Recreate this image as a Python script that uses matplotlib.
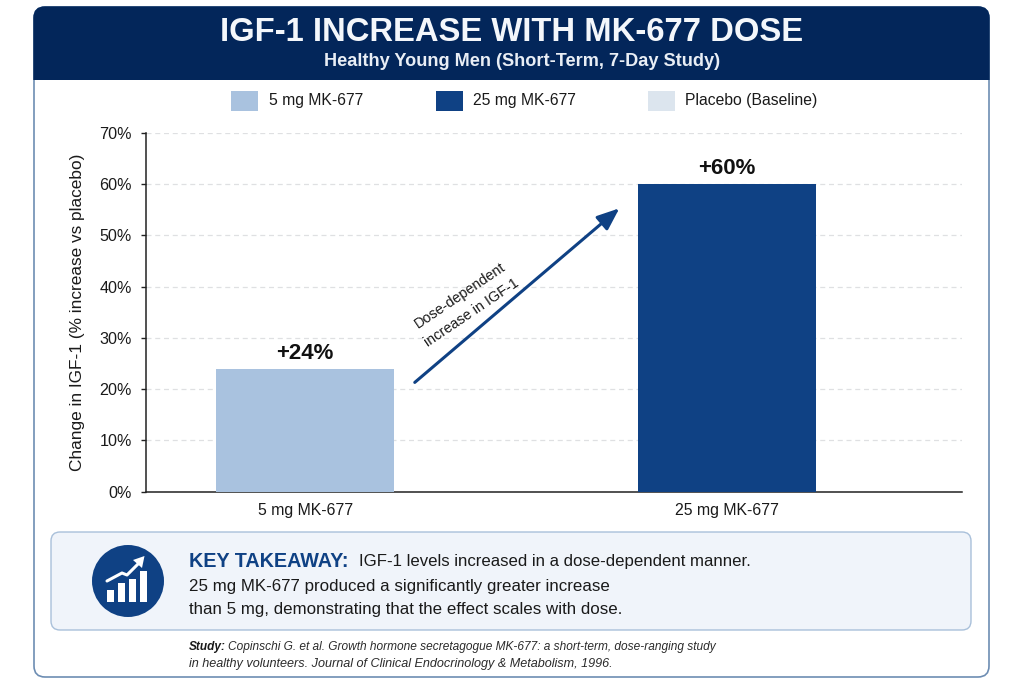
import matplotlib
matplotlib.use('Agg')
import matplotlib.pyplot as plt
from matplotlib.patches import Circle, FancyBboxPatch, Polygon, Rectangle

plt.rcParams['font.family'] = ['Liberation Sans', 'DejaVu Sans']

# IGF-1 change per dose
doses = ['5 mg MK-677', '25 mg MK-677']
igf_change = [24, 60]
value_labels = ['+24%', '+60%']
yticks = [0, 10, 20, 30, 40, 50, 60, 70]
legend_labels = ['5 mg MK-677', '25 mg MK-677', 'Placebo (Baseline)']
icon_bars = [12, 19, 23, 31]

NAVY = '#03265a'
BLUE = '#0f4184'
LIGHT = '#a9c2df'
PALE = '#dce5ee'
EDGE = '#6d8db3'
TEXT = '#1a1a1a'

W, H = 1024, 683


def main():
    fig = plt.figure(figsize=(W / 100, H / 100), dpi=100, facecolor='white')

    # page layer in pixel units, y pointing down
    page = fig.add_axes([0, 0, 1, 1], zorder=0)
    page.set_xlim(0, W)
    page.set_ylim(H, 0)
    page.axis('off')

    frame_box = dict(boxstyle='round,pad=0,rounding_size=11')
    page.add_patch(FancyBboxPatch((34, 7), 955, 670, fc='white', ec=EDGE, lw=1.2, **frame_box))
    header = FancyBboxPatch((34, 7), 955, 670, fc=NAVY, ec=NAVY, lw=1.0, **frame_box)
    page.add_patch(header)
    header.set_clip_path(Rectangle((0, 0), W, 80, transform=page.transData))

    page.text(512, 32.5, 'IGF-1 INCREASE WITH MK-677 DOSE', color='#f4f7fb', fontsize=23.6,
              fontweight='bold', ha='center', va='center')
    page.text(522, 61.5, 'Healthy Young Men (Short-Term, 7-Day Study)', color='#e9eef5', fontsize=13.1,
              fontweight='bold', ha='center', va='center')

    # legend row
    for x, tx, label, color in zip([231, 436, 648], [269, 473, 685], legend_labels, [LIGHT, BLUE, PALE]):
        page.add_patch(Rectangle((x, 91), 26.5, 20, fc=color, ec='none'))
        page.text(tx, 101, label, color=TEXT, fontsize=11.3, ha='left', va='center')

    # takeaway panel
    page.add_patch(FancyBboxPatch((51, 532), 920, 98, boxstyle='round,pad=0,rounding_size=9',
                                  fc='#f0f4fa', ec='#a9c0da', lw=1.0))
    page.add_patch(Circle((128, 581), 36, fc=BLUE, ec='none'))
    for x, h in zip([107, 118, 128.5, 139.5], icon_bars):
        page.add_patch(Rectangle((x, 602 - h), 7.3, h, fc='white', ec='none'))
    page.plot([107, 122, 127, 140], [581, 573, 575, 562], color='white', lw=2.2, solid_capstyle='round')
    page.add_patch(Polygon([[144.5, 556], [133, 560], [142, 568]], fc='white', ec='none'))

    page.text(189, 561.5, 'KEY TAKEAWAY:', color=BLUE, fontsize=14.2, fontweight='bold', ha='left', va='center')
    page.text(359, 561.5, 'IGF-1 levels increased in a dose-dependent manner.', color=TEXT, fontsize=12.1,
              ha='left', va='center')
    page.text(189, 586, '25 mg MK-677 produced a significantly greater increase', color=TEXT, fontsize=12.2,
              ha='left', va='center')
    page.text(189, 609.5, 'than 5 mg, demonstrating that the effect scales with dose.', color=TEXT,
              fontsize=12.2, ha='left', va='center')

    # citation
    page.text(189, 647, 'Study:', color=TEXT, fontsize=8.6, fontweight='bold', fontstyle='italic',
              ha='left', va='center')
    page.text(228, 647, 'Copinschi G. et al. Growth hormone secretagogue MK-677: a short-term, dose-ranging study',
              color='#2b2b2b', fontsize=8.6, fontstyle='italic', ha='left', va='center')
    page.text(189, 663.5, 'in healthy volunteers. Journal of Clinical Endocrinology & Metabolism, 1996.',
              color='#2b2b2b', fontsize=9.1, fontstyle='italic', ha='left', va='center')

    # bar chart
    ax = fig.add_axes([146 / W, 1 - 491.5 / H, (962 - 146) / W, (491.5 - 133) / H], zorder=1)
    ax.patch.set_alpha(0)
    positions = list(range(len(doses)))
    ax.bar(positions, igf_change, width=0.422, color=[LIGHT, BLUE], zorder=3)
    ax.set_xlim(-0.377, 1.557)
    ax.set_ylim(0, 70)
    ax.set_xticks(positions)
    ax.set_xticklabels(doses, fontsize=11.4, color=TEXT)
    ax.set_yticks(yticks)
    ax.set_yticklabels([f'{t}%' for t in yticks], fontsize=11.6, color=TEXT)
    ax.tick_params(axis='x', length=0, pad=8)
    ax.tick_params(axis='y', length=3.6, width=1.0, pad=6.5, color='#222222')
    ax.set_ylabel('Change in IGF-1 (% increase vs placebo)', fontsize=12.4, color=TEXT, labelpad=10.5)
    ax.grid(axis='y', color='#dfe0e2', linestyle=(0, (4, 3)), linewidth=0.9, zorder=0)
    ax.set_axisbelow(True)
    for side in ['top', 'right']:
        ax.spines[side].set_visible(False)
    for side in ['left', 'bottom']:
        ax.spines[side].set_linewidth(1.1)
        ax.spines[side].set_color('#222222')

    for pos, value, label in zip(positions, igf_change, value_labels):
        ax.annotate(label, (pos, value), xytext=(0, 3.5), textcoords='offset points', ha='center', va='bottom',
                    fontsize=16, fontweight='bold', color='#111111')

    # dose-response arrow
    ax.annotate('', xy=(0.745, 55.3), xytext=(0.26, 21.3),
                arrowprops=dict(arrowstyle='-|>,head_length=0.75,head_width=0.3', color=BLUE, lw=2.2,
                                mutation_scale=18, shrinkA=0, shrinkB=0), zorder=4)
    ax.text(0.3815, 36.6, 'Dose-dependent\nincrease in IGF-1', rotation=34, rotation_mode='anchor', ha='center',
            va='center', fontsize=10.4, color=TEXT, linespacing=1.7, zorder=4)

    fig.savefig('out.png', dpi=100)


if __name__ == '__main__':
    main()
